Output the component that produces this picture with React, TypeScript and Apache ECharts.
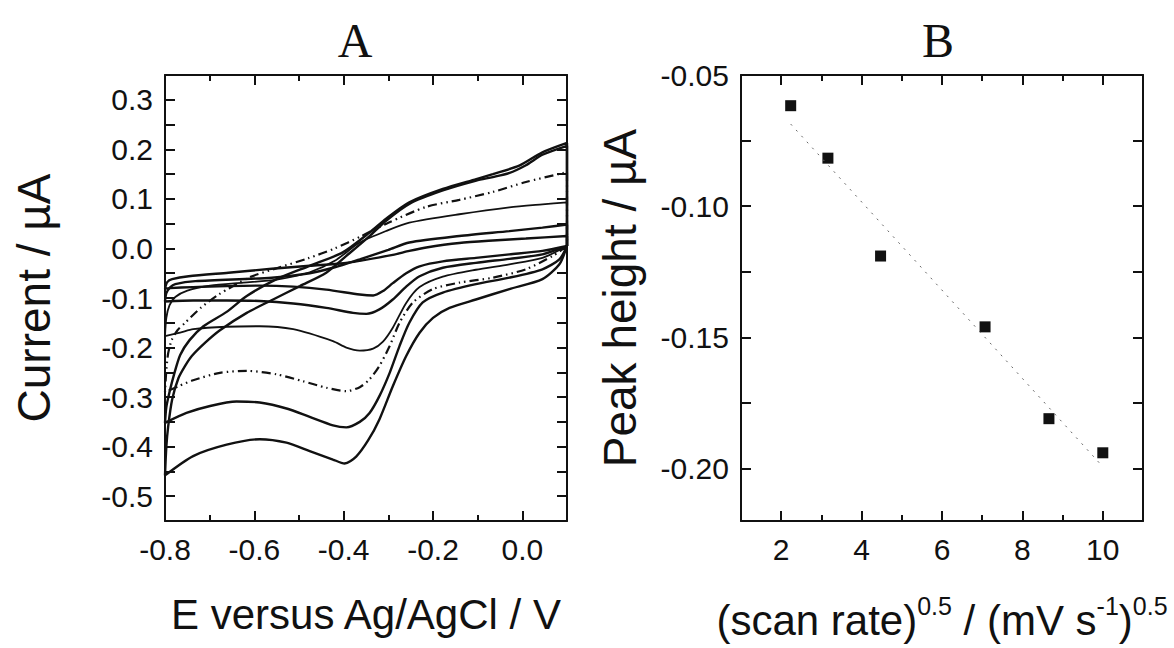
import React, { useEffect, useRef } from 'react';
import * as echarts from 'echarts';

// ---------- Panel A : cyclic voltammograms (E / V, I / µA) ----------
const cath1 = [[0.1,0.005],[0.045,-0.005],[-0.029,-0.012],[-0.104,-0.019],[-0.178,-0.026],[-0.23,-0.036],[-0.26,-0.05],[-0.29,-0.07],[-0.312,-0.086],[-0.334,-0.095],[-0.364,-0.093],[-0.439,-0.083],[-0.513,-0.077],[-0.588,-0.075],[-0.662,-0.076],[-0.737,-0.078],[-0.79,-0.08],[-0.8,-0.081]];
const anod1 = [[-0.8,-0.081],[-0.795,-0.068],[-0.784,-0.062],[-0.747,-0.056],[-0.658,-0.049],[-0.561,-0.041],[-0.476,-0.035],[-0.4,-0.03],[-0.364,-0.025],[-0.29,-0.013],[-0.253,-0.005],[-0.215,0.002],[-0.141,0.011],[-0.066,0.016],[0.008,0.02],[0.1,0.025],[0.1,0.005]];

const cath2 = [[0.1,0.005],[0.045,-0.012],[-0.029,-0.021],[-0.104,-0.029],[-0.178,-0.039],[-0.23,-0.056],[-0.26,-0.077],[-0.29,-0.103],[-0.32,-0.123],[-0.349,-0.132],[-0.379,-0.13],[-0.439,-0.12],[-0.513,-0.111],[-0.588,-0.106],[-0.662,-0.105],[-0.737,-0.105],[-0.8,-0.107]];
const anod2 = [[-0.8,-0.107],[-0.797,-0.09],[-0.788,-0.078],[-0.777,-0.072],[-0.732,-0.066],[-0.561,-0.059],[-0.476,-0.05],[-0.42,-0.038],[-0.364,-0.022],[-0.3,-0.003],[-0.253,0.012],[-0.141,0.025],[-0.029,0.035],[0.045,0.042],[0.1,0.048],[0.1,0.005]];

const cath3 = [[0.1,0.005],[0.045,-0.019],[-0.029,-0.032],[-0.104,-0.043],[-0.178,-0.057],[-0.23,-0.078],[-0.26,-0.11],[-0.29,-0.16],[-0.312,-0.188],[-0.334,-0.202],[-0.364,-0.206],[-0.394,-0.2],[-0.424,-0.187],[-0.513,-0.163],[-0.588,-0.157],[-0.662,-0.158],[-0.737,-0.163],[-0.766,-0.17],[-0.8,-0.177]];
const anod3 = [[-0.8,-0.177],[-0.797,-0.14],[-0.79,-0.115],[-0.777,-0.098],[-0.75,-0.085],[-0.699,-0.075],[-0.625,-0.069],[-0.55,-0.063],[-0.476,-0.048],[-0.42,-0.025],[-0.364,0.012],[-0.3,0.037],[-0.253,0.052],[-0.141,0.069],[-0.029,0.083],[0.045,0.089],[0.1,0.093],[0.1,0.005]];

const cath4 = [[0.1,0.005],[0.068,-0.015],[0.008,-0.042],[-0.066,-0.059],[-0.141,-0.069],[-0.2,-0.082],[-0.245,-0.109],[-0.275,-0.15],[-0.297,-0.197],[-0.32,-0.237],[-0.342,-0.264],[-0.364,-0.28],[-0.394,-0.288],[-0.439,-0.281],[-0.491,-0.268],[-0.55,-0.254],[-0.617,-0.247],[-0.677,-0.251],[-0.737,-0.266],[-0.77,-0.278],[-0.8,-0.29]];
const anod4 = [[-0.8,-0.29],[-0.797,-0.245],[-0.793,-0.212],[-0.785,-0.185],[-0.772,-0.165],[-0.755,-0.15],[-0.72,-0.12],[-0.68,-0.093],[-0.61,-0.058],[-0.55,-0.04],[-0.48,-0.02],[-0.42,0.0],[-0.36,0.025],[-0.3,0.052],[-0.215,0.084],[-0.141,0.098],[-0.066,0.114],[0.008,0.134],[0.09,0.152],[0.1,0.155],[0.1,0.005]];

const cath5 = [[0.1,0.005],[0.083,-0.022],[0.045,-0.042],[-0.029,-0.059],[-0.104,-0.072],[-0.178,-0.089],[-0.223,-0.109],[-0.253,-0.15],[-0.275,-0.197],[-0.297,-0.251],[-0.32,-0.298],[-0.342,-0.332],[-0.364,-0.35],[-0.394,-0.361],[-0.424,-0.357],[-0.476,-0.34],[-0.528,-0.323],[-0.588,-0.311],[-0.64,-0.309],[-0.699,-0.318],[-0.752,-0.332],[-0.8,-0.352]];
const anod5 = [[-0.8,-0.352],[-0.797,-0.32],[-0.79,-0.29],[-0.78,-0.255],[-0.766,-0.215],[-0.745,-0.185],[-0.714,-0.157],[-0.662,-0.128],[-0.617,-0.096],[-0.55,-0.062],[-0.476,-0.035],[-0.402,-0.008],[-0.342,0.032],[-0.305,0.06],[-0.253,0.093],[-0.178,0.12],[-0.103,0.14],[-0.066,0.15],[-0.007,0.167],[0.045,0.194],[0.1,0.213],[0.1,0.005]];

const cath6 = [[0.1,0.005],[0.083,-0.032],[0.045,-0.062],[-0.029,-0.082],[-0.104,-0.103],[-0.163,-0.12],[-0.2,-0.14],[-0.23,-0.17],[-0.26,-0.217],[-0.29,-0.278],[-0.32,-0.345],[-0.345,-0.387],[-0.372,-0.42],[-0.398,-0.434],[-0.424,-0.426],[-0.476,-0.409],[-0.528,-0.392],[-0.588,-0.385],[-0.662,-0.396],[-0.737,-0.419],[-0.8,-0.458]];
const anod6 = [[-0.8,-0.458],[-0.797,-0.4],[-0.793,-0.36],[-0.784,-0.305],[-0.77,-0.262],[-0.755,-0.237],[-0.74,-0.217],[-0.71,-0.19],[-0.677,-0.165],[-0.617,-0.13],[-0.558,-0.103],[-0.498,-0.076],[-0.439,-0.049],[-0.394,-0.015],[-0.342,0.025],[-0.305,0.056],[-0.253,0.09],[-0.178,0.117],[-0.103,0.137],[-0.066,0.144],[-0.03,0.152],[0.008,0.168],[0.045,0.189],[0.1,0.207],[0.1,0.005]];

// ---------- Panel B : peak height vs sqrt(scan rate) ----------
const sqrtScanRate = [2.236, 3.162, 4.472, 7.071, 8.66, 10.0];
const peakHeight = [-0.0617, -0.0817, -0.119, -0.146, -0.181, -0.194];
const fitX = [2.236, 10.0];
const fitY = [-0.0687, -0.1993];

// ---------- Tick labels ----------
const aXMajor = [-0.8, -0.6, -0.4, -0.2, 0.0];
const aXMinor = [-0.7, -0.5, -0.3, -0.1];
const aYLabels = [-0.5, -0.4, -0.3, -0.2, -0.1, 0.0, 0.1, 0.2, 0.3];
const aYTicks = [-0.5, -0.45, -0.4, -0.35, -0.3, -0.25, -0.2, -0.15, -0.1, -0.05, 0.0, 0.05, 0.1, 0.15, 0.2, 0.25, 0.3];
const bXMajor = [2, 4, 6, 8, 10];
const bXMinor = [3, 5, 7, 9];
const bYLabels = [-0.2, -0.15, -0.1, -0.05];
const bYTicks = [-0.2, -0.175, -0.15, -0.125, -0.1, -0.075];

const INK = '#111111';
const SANS = '"Liberation Sans", Arial, sans-serif';
const SERIF = '"Liberation Serif", "Times New Roman", serif';
const TICK_FONT = 30;
const NAME_FONT = 42;

const lineSty = { color: INK, width: 2 };

function xAxisSet(grid: number, min: number, max: number, major: number[], minor: number[], fmt: (v: number) => string, name: string, nameStyle: any) {
  return [
    {
      type: 'value', gridIndex: grid, position: 'bottom', min, max,
      axisLine: { show: true, onZero: false, lineStyle: lineSty },
      axisTick: { show: true, inside: true, length: 10, customValues: major, lineStyle: lineSty },
      axisLabel: { show: true, customValues: major, formatter: fmt, margin: 13, color: INK, fontFamily: SANS, fontSize: TICK_FONT },
      splitLine: { show: false },
      name, nameLocation: 'middle', nameGap: 72, nameTextStyle: nameStyle,
    },
    {
      type: 'value', gridIndex: grid, position: 'bottom', min, max,
      axisLine: { show: false, onZero: false },
      axisTick: { show: true, inside: true, length: 6, customValues: minor, lineStyle: lineSty },
      axisLabel: { show: false }, splitLine: { show: false },
    },
    {
      type: 'value', gridIndex: grid, position: 'top', min, max,
      axisLine: { show: true, onZero: false, lineStyle: lineSty },
      axisTick: { show: true, inside: true, length: 10, customValues: major, lineStyle: lineSty },
      axisLabel: { show: false }, splitLine: { show: false },
    },
    {
      type: 'value', gridIndex: grid, position: 'top', min, max,
      axisLine: { show: false, onZero: false },
      axisTick: { show: true, inside: true, length: 6, customValues: minor, lineStyle: lineSty },
      axisLabel: { show: false }, splitLine: { show: false },
    },
  ];
}

function yAxisSet(grid: number, min: number, max: number, ticks: number[], labels: number[], fmt: (v: number) => string, name: string, nameGap: number) {
  return [
    {
      type: 'value', gridIndex: grid, position: 'left', min, max,
      axisLine: { show: true, onZero: false, lineStyle: lineSty },
      axisTick: { show: true, inside: true, length: 10, customValues: ticks, lineStyle: lineSty },
      axisLabel: { show: true, customValues: labels, formatter: fmt, margin: 12, color: INK, fontFamily: SANS, fontSize: TICK_FONT },
      splitLine: { show: false },
      name, nameLocation: 'middle', nameGap,
      nameTextStyle: { color: INK, fontFamily: SANS, fontSize: 46 },
    },
    {
      type: 'value', gridIndex: grid, position: 'right', min, max,
      axisLine: { show: true, onZero: false, lineStyle: lineSty },
      axisTick: { show: true, inside: true, length: 10, customValues: ticks, lineStyle: lineSty },
      axisLabel: { show: false }, splitLine: { show: false },
    },
  ];
}

function loopSeries(cath: number[][], anod: number[][], extra: any = {}) {
  return {
    type: 'line', xAxisIndex: 0, yAxisIndex: 0,
    data: cath.concat(anod),
    showSymbol: false, symbol: 'none', smooth: 0.25,
    lineStyle: { color: INK, width: 2.4, ...extra },
    silent: true,
  };
}

export default function App() {
  const ref = useRef<HTMLDivElement>(null);
  useEffect(() => {
    document.body.style.margin = '0';
    const chart = echarts.init(ref.current!, null, { renderer: 'svg' });
    const fmt1 = (v: number) => (Math.abs(v) < 1e-9 ? '0.0' : v.toFixed(1));
    const fmt2 = (v: number) => v.toFixed(2);
    const fmt0 = (v: number) => String(Math.round(v));
    const xA = xAxisSet(0, -0.8, 0.1, aXMajor, aXMinor, fmt1, 'E versus Ag/AgCl / V',
      { color: INK, fontFamily: SANS, fontSize: NAME_FONT });
    const xB = xAxisSet(1, 1, 11, bXMajor, bXMinor, fmt0,
      '{n|(scan rate)}{s|0.5}{n| / (mV s}{s|-1}{n|)}{s|0.5}',
      {
        color: INK, fontFamily: SANS, fontSize: NAME_FONT,
        rich: {
          n: { color: INK, fontFamily: SANS, fontSize: NAME_FONT, lineHeight: 48, verticalAlign: 'bottom' },
          s: { color: INK, fontFamily: SANS, fontSize: 25, lineHeight: 25, verticalAlign: 'top' },
        },
      });
    const yA = yAxisSet(0, -0.55, 0.35, aYTicks, aYLabels, fmt1, 'Current / µA', 108);
    const yB = yAxisSet(1, -0.22, -0.05, bYTicks, bYLabels, fmt2, 'Peak height / µA', 98);

    chart.setOption({
      animation: false,
      grid: [
        { left: 165, top: 75, width: 402, height: 446 },
        { left: 741, top: 75, width: 402, height: 446 },
      ],
      xAxis: [...xA, ...xB],
      yAxis: [...yA, ...yB],
      graphic: [
        { type: 'text', x: 355, y: 40, style: { text: 'A', font: `48px ${SERIF}`, fill: INK, textAlign: 'center', textVerticalAlign: 'middle' } },
        { type: 'text', x: 938, y: 40, style: { text: 'B', font: `48px ${SERIF}`, fill: INK, textAlign: 'center', textVerticalAlign: 'middle' } },
      ],
      series: [
        loopSeries(cath1, anod1),
        loopSeries(cath2, anod2),
        loopSeries(cath3, anod3, { width: 1.8 }),
        loopSeries(cath4, anod4, { width: 2.2, type: [9, 4, 1.5, 4, 1.5, 4] }),
        loopSeries(cath5, anod5),
        loopSeries(cath6, anod6),
        {
          type: 'line', xAxisIndex: 4, yAxisIndex: 2,
          data: fitX.map((x, i) => [x, fitY[i]]),
          showSymbol: false, symbol: 'none',
          lineStyle: { color: '#666', width: 1, type: [2, 6] },
          silent: true,
        },
        {
          type: 'scatter', xAxisIndex: 4, yAxisIndex: 2,
          data: sqrtScanRate.map((x, i) => [x, peakHeight[i]]),
          symbol: 'rect', symbolSize: 11,
          itemStyle: { color: INK, opacity: 1 },
          silent: true,
        },
      ],
    });
    return () => chart.dispose();
  }, []);
  return <div ref={ref} style={{ width: 1174, height: 648 }} />;
}
